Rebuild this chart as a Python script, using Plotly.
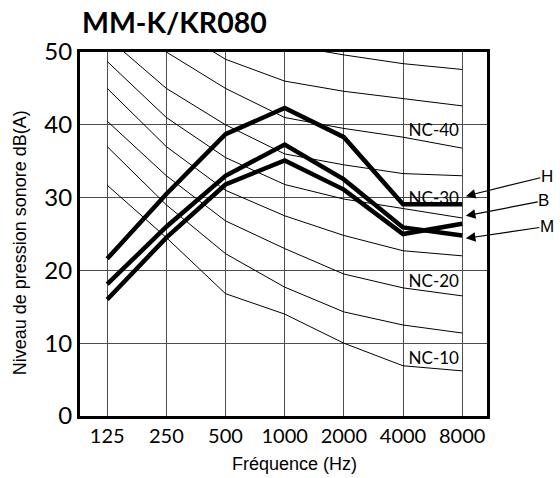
import plotly.graph_objects as go

freqs = ["125", "250", "500", "1000", "2000", "4000", "8000"]

# NC reference curves (dB at each octave band)
nc_names = ["NC-10", "NC-15", "NC-20", "NC-25", "NC-30", "NC-35", "NC-40", "NC-45", "NC-50"]
nc10 = [31.7, 24.5, 16.8, 14.0, 10.0, 6.9, 6.2]
nc15 = [37.0, 29.0, 22.3, 17.7, 14.3, 12.5, 11.4]
nc20 = [40.5, 33.0, 26.8, 23.0, 19.5, 17.6, 16.5]
nc25 = [45.0, 37.0, 31.0, 27.5, 24.8, 22.7, 22.0]
nc30 = [48.7, 41.0, 35.5, 31.8, 29.8, 28.5, 27.2]
nc35 = [52.0, 45.0, 40.0, 36.0, 34.5, 33.3, 33.0]
nc40 = [56.0, 50.0, 45.0, 41.0, 39.5, 38.3, 36.8]
nc45 = [60.0, 54.0, 49.0, 46.0, 44.6, 43.6, 42.6]
nc50 = [64.0, 58.0, 54.0, 51.0, 49.6, 48.4, 47.6]
nc_curves = [nc10, nc15, nc20, nc25, nc30, nc35, nc40, nc45, nc50]

# Measured sound pressure levels
level_H = [21.6, 30.5, 38.7, 42.3, 38.3, 29.1, 29.1]
level_M = [18.1, 26.0, 33.0, 37.3, 32.5, 25.9, 24.8]
level_B = [16.0, 24.5, 31.8, 35.1, 31.1, 25.0, 26.4]

# NC labels (text, y value), placed between 4000 and 8000
nc_label_text = ["NC-40", "NC-30", "NC-20", "NC-10"]
nc_label_y = [39.05, 29.7, 18.3, 7.7]

xi = list(range(len(freqs)))

fig = go.Figure()

for name, vals in zip(nc_names, nc_curves):
    fig.add_trace(go.Scatter(x=xi, y=vals, mode="lines", name=name,
                             line=dict(color="black", width=1), hoverinfo="skip"))

fig.add_trace(go.Scatter(x=[5.52] * len(nc_label_text), y=nc_label_y, mode="text",
                         text=nc_label_text,
                         textfont=dict(family="Lato", size=17, color="black"),
                         hoverinfo="skip"))

for name, vals in [("H", level_H), ("M", level_M), ("B", level_B)]:
    fig.add_trace(go.Scatter(x=xi, y=vals, mode="lines", name=name,
                             line=dict(color="black", width=4.5)))

ann = []
ann.append(dict(text="<b>MM-K/KR080</b>", xref="paper", yref="paper", x=0, y=1.082,
                xanchor="left", yanchor="middle", showarrow=False,
                font=dict(family="Lato", size=28.5, color="black")))
ann.append(dict(text="Fréquence (Hz)", xref="paper", yref="paper", x=0.528, y=-0.132,
                xanchor="center", yanchor="middle", showarrow=False,
                font=dict(family="Liberation Sans", size=18, color="black")))
ann.append(dict(text="Niveau de pression sonore dB(A)", xref="paper", yref="paper",
                x=-0.147, y=0.475, xanchor="center", yanchor="middle", textangle=-90,
                showarrow=False, font=dict(family="Liberation Sans", size=18, color="black")))

for lab, ty, ax, ay in [("H", 30.2, 81, -20), ("B", 27.5, 78, -15), ("M", 24.4, 81, -12)]:
    ann.append(dict(text=lab, xref="paper", yref="y", x=0.948, y=ty, ax=ax, ay=ay,
                    showarrow=True, arrowhead=2, arrowsize=1.6, arrowwidth=1.2,
                    arrowcolor="black", standoff=0, borderpad=0,
                    font=dict(family="Liberation Sans", size=17, color="black")))

fig.update_layout(
    width=560, height=478,
    margin=dict(l=80, r=73, t=52, b=62),
    paper_bgcolor="white", plot_bgcolor="white",
    showlegend=False,
    annotations=ann,
)
fig.update_xaxes(range=[-0.46, 6.42], tickmode="array", tickvals=xi, ticktext=freqs,
                 showgrid=True, gridcolor="#4d4d4d", gridwidth=1.2, zeroline=False,
                 showline=True, mirror=True, linecolor="black", linewidth=3,
                 ticks="", tickfont=dict(family="Lato", size=20, color="black"))
fig.update_yaxes(range=[0, 50], dtick=10, showgrid=True, gridcolor="#4d4d4d",
                 gridwidth=1.2, zeroline=False,
                 showline=True, mirror=True, linecolor="black", linewidth=3,
                 ticks="", tickfont=dict(family="Lato", size=24, color="black"))

fig.write_html("out.html")
